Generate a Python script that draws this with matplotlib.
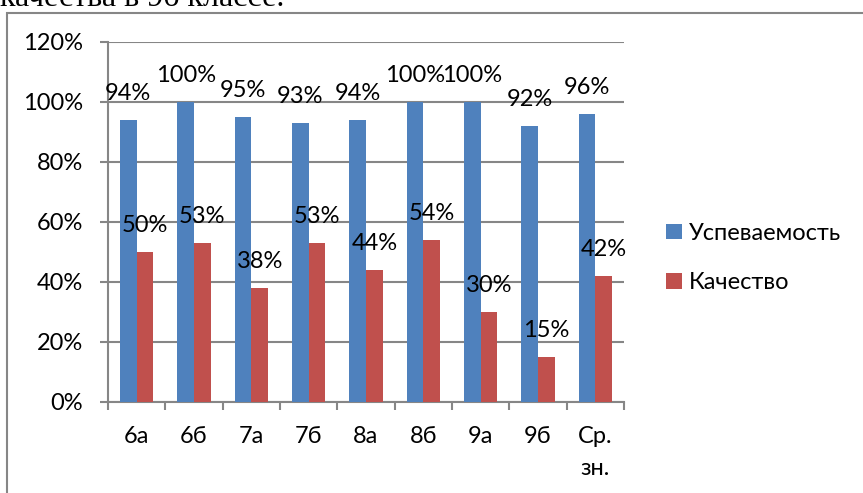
import matplotlib
matplotlib.use("Agg")
import matplotlib.pyplot as plt
import numpy as np
from matplotlib.patches import Rectangle, Patch

categories = ["6а", "6б", "7а", "7б", "8а", "8б", "9а", "9б", "Ср.\nзн."]
uspev = [94, 100, 95, 93, 94, 100, 100, 92, 96]
kachestvo = [50, 53, 38, 53, 44, 54, 30, 15, 42]
series_names = ["Успеваемость", "Качество"]
ytick_vals = [0, 20, 40, 60, 80, 100, 120]

BLUE = "#4F81BD"
RED = "#C0504D"
GRID = "#868686"
FONT = "Lato"
FS = 17

W, H = 863, 493
fig = plt.figure(figsize=(W / 100, H / 100), dpi=100)

# chart border (extends beyond the right/bottom edges)
fig.patches.append(Rectangle((7 / W, -0.1), 1.2, 1 - 13 / H + 0.1, transform=fig.transFigure,
                             fill=False, edgecolor=GRID, linewidth=1.5))

# cut-off text of document above chart
fig.text(0 / W, 1 - 6 / H, "качества в 9б классе.", family="Liberation Serif",
         fontsize=23, va="baseline", ha="left")

ax = fig.add_axes([108 / W, 1 - 402 / H, (624 - 108) / W, (402 - 42) / H])
x = np.arange(len(categories))
bw = 0.29
b1 = ax.bar(x - bw / 2, uspev, bw, color=BLUE, zorder=3)
b2 = ax.bar(x + bw / 2, kachestvo, bw, color=RED, zorder=3)

for rects, vals in ((b1, uspev), (b2, kachestvo)):
    for r, v in zip(rects, vals):
        ax.annotate(f"{v}%", (r.get_x() + r.get_width() / 2, v), xytext=(0, 19),
                    textcoords="offset points", ha="center", va="center",
                    fontsize=FS, family=FONT, zorder=5)

ax.set_xlim(-0.5, len(categories) - 0.5)
ax.set_ylim(0, 120)
ax.set_yticks(ytick_vals)
ax.set_yticklabels([f"{v}%" for v in ytick_vals], family=FONT, fontsize=FS)
ax.yaxis.grid(True, color=GRID, linewidth=1.5, zorder=0)
ax.set_axisbelow(True)

ax.set_xticks(x)
ax.set_xticklabels(categories, family=FONT, fontsize=FS, linespacing=1.65, va="top")
ax.set_xticks(np.arange(len(categories) + 1) - 0.5, minor=True)
ax.tick_params(axis="x", which="major", length=0, pad=17)
ax.tick_params(axis="x", which="minor", length=6, width=1.5, color=GRID, direction="out")
ax.tick_params(axis="y", length=6, width=1.5, color=GRID, pad=12, direction="out")

for s in ("top", "right"):
    ax.spines[s].set_visible(False)
for s in ("left", "bottom"):
    ax.spines[s].set_color(GRID)
    ax.spines[s].set_linewidth(1.5)

handles = [Patch(facecolor=BLUE), Patch(facecolor=RED)]
fig.legend(handles, series_names, loc="center left", bbox_to_anchor=(657 / W, 1 - 258 / H),
           frameon=False, prop={"family": FONT, "size": FS}, handlelength=0.65,
           handleheight=0.65, handletextpad=0.3, labelspacing=1.2, borderaxespad=0)

fig.savefig("out.png", dpi=100)
